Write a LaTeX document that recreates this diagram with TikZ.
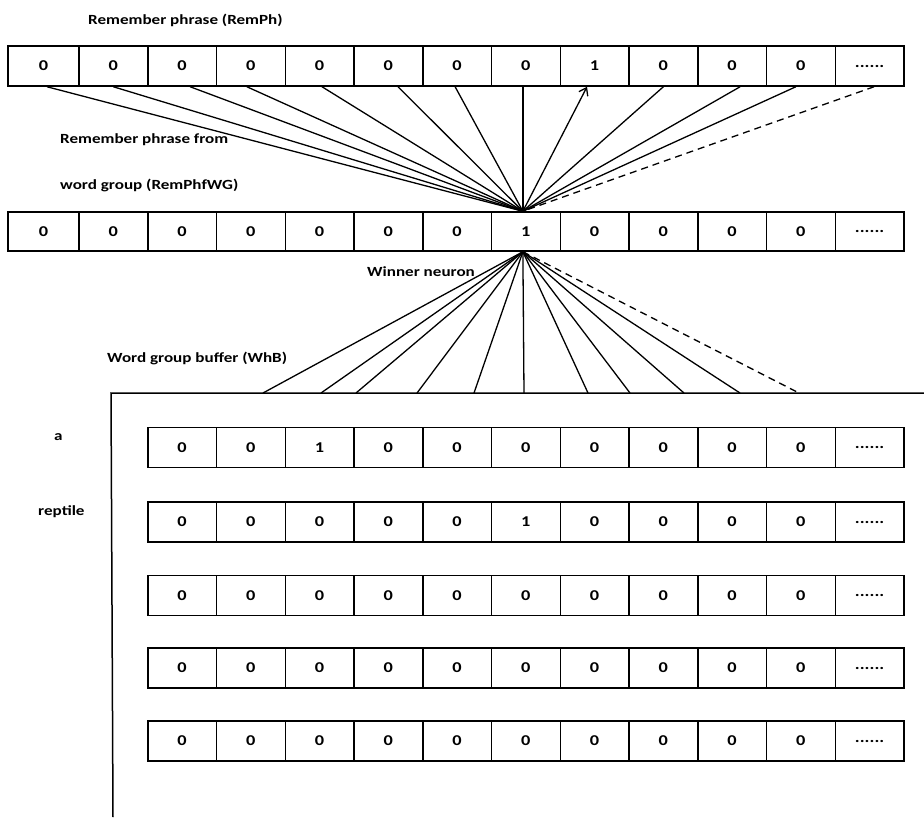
\documentclass[tikz,border=0pt]{standalone}
\usepackage{fontspec}
\newfontfamily\labfont[FakeStretch=1.22,Numbers=Lining]{Carlito}
\usetikzlibrary{arrows.meta,calc}
\begin{document}
\begin{tikzpicture}[x=1pt,y=-1pt,
  cell/.style={draw,line width=1.5pt,rectangle,inner sep=0pt,minimum height=40pt,
    font=\labfont\bfseries\fontsize{15}{17}\selectfont},
  lab/.style={anchor=west,inner sep=0pt,font=\labfont\bfseries\fontsize{14}{16}\selectfont},
  link/.style={line width=1.3pt},
  dlink/.style={line width=1.3pt,dash pattern=on 7pt off 5pt}]
\useasboundingbox[fill=white] (0,0) rectangle (924,817);

% top row: Remember phrase
\node[cell,minimum width=71pt] (T1) at (43.5,66) {0};
\foreach \i in {2,...,13}{
  \node[cell,minimum width=68.75pt] (T\i) at ({79+68.75*(\i-1.5)},66)
    {\ifnum\i=13\relax ......\else\ifnum\i=9\relax 1\else 0\fi\fi};
}
% middle row: Remember phrase from word group
\node[cell,minimum width=71pt,minimum height=39pt] (M1) at (43.5,231.5) {0};
\foreach \i in {2,...,13}{
  \node[cell,minimum width=68.75pt,minimum height=39pt] (M\i) at ({79+68.75*(\i-1.5)},231.5)
    {\ifnum\i=13\relax ......\else\ifnum\i=8\relax 1\else 0\fi\fi};
}
% word group buffer rows
\foreach \r/\y/\one in {1/447.5/3,2/522/6,3/595.5/0,4/668/0,5/741/0}{
  \foreach \c in {1,...,11}{
    \node[cell,minimum width=68.75pt] (R\r C\c) at ({147.75+68.75*(\c-0.5)},\y)
      {\ifnum\c=11\relax ......\else\ifnum\c=\one\relax 1\else 0\fi\fi};
  }
}

% winner neuron points
\coordinate (Wt) at ($(M8.north)+(-3,0)$);
\coordinate (Wb) at ($(M8.south)+(-3,0)$);

% upper fan
\foreach \i/\d in {1/3.5,2/0,3/8,4/-4,5/2.4,6/9.6,7/-2,8/-3,10/0,11/8,12/-5}
  \draw[link] ($(T\i.south)+(\d,0)$) -- (Wt);
\draw[link,-{Straight Barb[length=7pt,width=10pt,line width=1.3pt]}] (Wt) -- ($(T9.south)+(-7.6,0)$);
\draw[dlink] ($(T13.south)+(4.4,0)$) -- (Wt);

% big buffer box
\coordinate (BL) at (113,817);
\coordinate (BT) at (111,393);
\coordinate (BR) at (924,393);
\draw[line width=1.5pt] (BL) -- (BT) -- (BR);

% lower fan
\foreach \x in {263,321,356,417,474,524,588,630,684,740}
  \draw[link] (Wb) -- ($(BT)+({\x-111},0)$);
\draw[dlink] (Wb) -- ($(BT)+(688,0)$);

% labels
\node[lab] (l1) at (88,20) {Remember phrase (RemPh)};
\node[lab] (l2) at (60,140) {Remember phrase from};
\node[lab] (l3) at (60,185) {word group (RemPhfWG)};
\node[lab] (l4) at (367,272) {Winner neuron};
\node[lab] (l5) at (107,358) {Word group buffer (WhB)};
\node[lab] (l6) at (54,437) {a};
\node[lab] (l7) at (38,512) {reptile};
\end{tikzpicture}
\end{document}
